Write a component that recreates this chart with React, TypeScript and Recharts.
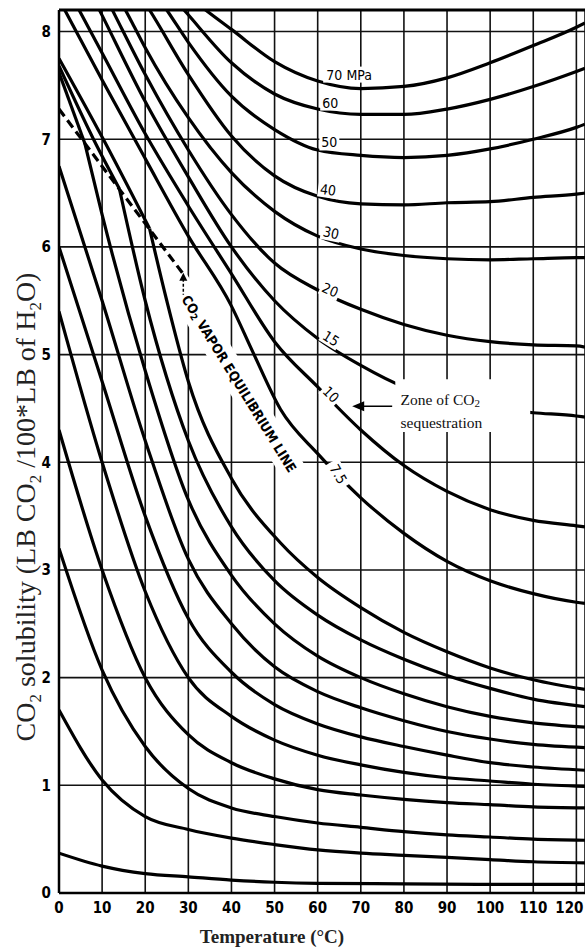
import React from 'react';
import {
  LineChart,
  Line,
  XAxis,
  YAxis,
  CartesianGrid,
  ReferenceLine,
  ReferenceArea,
  ReferenceDot,
} from 'recharts';

type Pt = [number, number];

// temperature (°C) / solubility (lb CO2 per 100 lb H2O)
const tempTicks = [0, 10, 20, 30, 40, 50, 60, 70, 80, 90, 100, 110, 120];
const solTicks = [0, 1, 2, 3, 4, 5, 6, 7, 8];

// isobars above the critical pressure (labelled, MPa)
const p70: Pt[] = [[25, 8.5], [34, 8.2], [40, 8.02], [50, 7.72], [60, 7.54], [70, 7.47], [80, 7.49], [90, 7.57], [100, 7.71], [110, 7.87], [120, 8.04], [122, 8.08]];
const p60: Pt[] = [[20, 8.6], [29, 8.2], [40, 7.71], [50, 7.42], [60, 7.28], [70, 7.23], [80, 7.23], [90, 7.28], [100, 7.37], [110, 7.49], [120, 7.63], [122, 7.66]];
const p50: Pt[] = [[15, 8.75], [25, 8.2], [30, 7.9], [40, 7.4], [50, 7.09], [60, 6.9], [70, 6.85], [80, 6.83], [90, 6.85], [100, 6.91], [110, 7.0], [120, 7.11], [122, 7.14]];
const p40: Pt[] = [[10, 8.85], [21, 8.2], [30, 7.6], [40, 7.03], [50, 6.66], [60, 6.47], [70, 6.4], [80, 6.39], [90, 6.41], [100, 6.42], [110, 6.46], [120, 6.49], [122, 6.5]];
const p30: Pt[] = [[5, 8.95], [17, 8.08], [20, 7.85], [30, 7.2], [40, 6.69], [50, 6.33], [60, 6.1], [70, 5.98], [80, 5.92], [90, 5.89], [100, 5.88], [110, 5.89], [120, 5.9], [122, 5.9]];
const p20: Pt[] = [[0, 9.2], [13, 8.15], [20, 7.6], [30, 6.9], [40, 6.3], [50, 5.85], [60, 5.6], [70, 5.42], [80, 5.28], [90, 5.18], [100, 5.12], [110, 5.09], [120, 5.08], [122, 5.07]];
const p15: Pt[] = [[0, 8.95], [10, 8.15], [20, 7.35], [30, 6.65], [40, 6.0], [50, 5.5], [60, 5.15], [70, 4.9], [80, 4.7], [90, 4.58], [100, 4.5], [110, 4.46], [120, 4.43], [122, 4.42]];
const p10: Pt[] = [[0, 8.55], [10, 7.8], [20, 7.05], [30, 6.38], [40, 5.75], [50, 5.12], [60, 4.7], [70, 4.3], [80, 3.97], [90, 3.73], [100, 3.56], [110, 3.46], [120, 3.41], [122, 3.4]];
const p7_5: Pt[] = [[0, 8.3], [10, 7.55], [20, 6.82], [30, 6.1], [40, 5.45], [45, 5.02], [51.4, 4.49], [60, 4.08], [70, 3.67], [80, 3.34], [90, 3.08], [100, 2.9], [110, 2.78], [120, 2.7], [122, 2.69]];

// liquid-side branches (left of the vapour line)
const liqA: Pt[] = [[0, 7.75], [10, 7.02], [21, 6.17]];
const liqB: Pt[] = [[0, 7.68], [8, 7.0], [14, 6.54]];
const liqC: Pt[] = [[0, 7.62], [6, 6.96]];

// gas-side isobars (unlabelled)
const g9: Pt[] = [[21, 6.17], [25, 5.5], [30, 4.75], [40, 3.85], [51.4, 3.25], [60, 2.93], [70, 2.65], [80, 2.42], [90, 2.24], [100, 2.09], [110, 1.98], [122, 1.89]];
const g8: Pt[] = [[14, 6.54], [20, 5.5], [30, 4.2], [40, 3.4], [50, 2.9], [60, 2.58], [70, 2.35], [80, 2.17], [90, 2.02], [100, 1.9], [110, 1.8], [122, 1.73]];
const g7: Pt[] = [[6, 6.96], [10, 6.3], [20, 4.85], [30, 3.65], [40, 2.95], [50, 2.5], [60, 2.2], [70, 2.0], [80, 1.85], [90, 1.73], [100, 1.64], [110, 1.58], [122, 1.54]];
const g6: Pt[] = [[0, 6.75], [10, 5.5], [20, 4.2], [30, 3.1], [40, 2.5], [50, 2.1], [60, 1.87], [70, 1.72], [80, 1.6], [90, 1.5], [100, 1.43], [110, 1.38], [122, 1.35]];
const g5: Pt[] = [[0, 6.0], [10, 4.75], [20, 3.5], [30, 2.55], [40, 2.05], [50, 1.75], [60, 1.57], [70, 1.45], [80, 1.36], [90, 1.28], [100, 1.21], [110, 1.17], [122, 1.14]];
const g4: Pt[] = [[0, 5.4], [10, 4.0], [20, 2.8], [30, 2.0], [40, 1.64], [50, 1.42], [60, 1.28], [70, 1.19], [80, 1.12], [90, 1.07], [100, 1.04], [110, 1.01], [122, 0.99]];
const g3: Pt[] = [[0, 4.3], [10, 3.0], [20, 2.0], [30, 1.47], [40, 1.21], [50, 1.06], [60, 0.96], [70, 0.91], [80, 0.87], [90, 0.84], [100, 0.82], [110, 0.8], [122, 0.79]];
const g2: Pt[] = [[0, 3.2], [10, 2.07], [20, 1.36], [30, 0.97], [40, 0.79], [50, 0.71], [60, 0.65], [70, 0.61], [80, 0.57], [90, 0.54], [100, 0.52], [110, 0.5], [122, 0.49]];
const g1: Pt[] = [[0, 1.7], [10, 1.05], [20, 0.71], [30, 0.59], [40, 0.51], [50, 0.45], [60, 0.4], [70, 0.37], [80, 0.35], [90, 0.33], [100, 0.31], [110, 0.29], [122, 0.28]];
const g0: Pt[] = [[0, 0.37], [10, 0.25], [20, 0.18], [30, 0.15], [40, 0.12], [50, 0.1], [60, 0.09], [80, 0.085], [100, 0.08], [122, 0.08]];

// CO2 vapour equilibrium line
const vle: Pt[] = [[0, 7.28], [28.6, 5.76]];

// label anchors: [temp, solubility], text, rotation
const isobarLabels: { at: Pt; text: string; rot: number }[] = [
  { at: [67.3, 7.6], text: '70 MPa', rot: 0 },
  { at: [62.9, 7.34], text: '60', rot: 0 },
  { at: [62.7, 6.97], text: '50', rot: 0 },
  { at: [62.4, 6.53], text: '40', rot: 8 },
  { at: [63.1, 6.13], text: '30', rot: 12 },
  { at: [62.9, 5.6], text: '20', rot: 24 },
  { at: [63.1, 5.15], text: '15', rot: 32 },
  { at: [63.1, 4.63], text: '10', rot: 45 },
  { at: [64.8, 3.89], text: '7.5', rot: 60 },
];

const curves: Pt[][] = [p70, p60, p50, p40, p30, p20, p15, p10, p7_5, liqA, liqB, liqC, g9, g8, g7, g6, g5, g4, g3, g2, g1, g0];

const rows = (pts: Pt[]) => pts.map(([t, s]) => ({ t, s }));

const narrow = '"Liberation Sans Narrow", "DejaVu Sans Condensed", sans-serif';
const sans = '"DejaVu Sans Condensed", "DejaVu Sans", sans-serif';
const serif = '"Liberation Serif", "DejaVu Serif", serif';

const XTick = (props: any) => {
  const { x, y, payload } = props;
  const dx = payload.value === 120 ? -7 : 0;
  return (
    <text x={x + dx} y={y + 12} textAnchor="middle" fontFamily={narrow} fontWeight="bold" fontSize={15} fill="#000">
      {payload.value}
    </text>
  );
};

export default function App() {
  return (
    <div style={{ position: 'relative', width: 585, height: 949, background: '#fff' }}>
      <style>{'body{margin:0}'}</style>
      <LineChart width={585} height={949} margin={{ top: 10, right: 0, bottom: 0, left: 0 }}>
        <CartesianGrid stroke="#111" strokeWidth={1.6} />
        <XAxis
          dataKey="t"
          type="number"
          domain={[0, 122]}
          ticks={tempTicks}
          allowDataOverflow
          interval={0}
          height={56}
          tickLine={false}
          axisLine={{ stroke: '#000', strokeWidth: 2.5 }}
          tick={<XTick />}
        />
        <YAxis
          type="number"
          domain={[0, 8.2]}
          ticks={solTicks}
          allowDataOverflow
          width={59}
          tickLine={false}
          axisLine={{ stroke: '#000', strokeWidth: 2.5 }}
          tick={{ fill: '#000', fontSize: 15, fontFamily: narrow, fontWeight: 'bold' }}
        />
        <ReferenceLine y={8.2} stroke="#000" strokeWidth={3} />

        {/* white strip behind the vapour line caption (breaks the grid) */}
        <ReferenceDot
          x={41.8}
          y={4.73}
          r={0}
          zIndex={50}
          shape={(p: any) => (
            <rect
              x={p.cx - 120}
              y={p.cy - 13}
              width={240}
              height={26}
              fill="#fff"
              transform={`rotate(58.3 ${p.cx} ${p.cy})`}
            />
          )}
        />

        {curves.map((c, i) => (
          <Line
            key={i}
            data={rows(c)}
            dataKey="s"
            type="monotone"
            stroke="#000"
            strokeWidth={3.2}
            dot={false}
            activeDot={false}
            isAnimationActive={false}
          />
        ))}
        <Line
          data={rows(vle)}
          dataKey="s"
          type="linear"
          stroke="#000"
          strokeWidth={3.2}
          strokeDasharray="9 5"
          dot={false}
          activeDot={false}
          isAnimationActive={false}
        />

        {/* small arrow at the end of the vapour line */}
        <ReferenceDot
          x={28.6}
          y={5.76}
          r={0}
          zIndex={700}
          shape={(p: any) => (
            <g>
              <line x1={p.cx + 1} y1={p.cy + 6} x2={p.cx + 1} y2={p.cy + 22} stroke="#000" strokeWidth={1.5} strokeDasharray="3 2" />
              <polygon points={`${p.cx + 1},${p.cy} ${p.cx - 3},${p.cy + 8} ${p.cx + 5},${p.cy + 8}`} fill="#000" />
            </g>
          )}
        />

        <ReferenceDot
          x={41.8}
          y={4.73}
          r={0}
          zIndex={700}
          shape={(p: any) => (
            <text
              x={p.cx}
              y={p.cy}
              textAnchor="middle"
              dominantBaseline="central"
              fontFamily={sans}
              fontWeight="bold"
              fontSize={13.5}
              fill="#000"
              transform={`rotate(58.3 ${p.cx} ${p.cy})`}
            >
              CO<tspan fontSize={9.5} dy={3}>2</tspan>
              <tspan dy={-3}> VAPOR EQUILIBRIUM LINE</tspan>
            </text>
          )}
        />

        {/* zone of sequestration box */}
        <ReferenceArea x1={78} x2={109.3} y1={4.28} y2={4.77} fill="#fff" fillOpacity={1} stroke="none" zIndex={600} />
        <ReferenceDot
          x={79.2}
          y={4.535}
          r={0}
          zIndex={700}
          shape={(p: any) => (
            <g fontFamily={serif} fontSize={15.5} fill="#111">
              <text x={p.cx} y={p.cy}>
                Zone of  CO<tspan fontSize={11} dy={2}>2</tspan>
              </text>
              <text x={p.cx} y={p.cy + 23}>sequestration</text>
            </g>
          )}
        />
        <ReferenceDot
          x={68}
          y={4.52}
          r={0}
          zIndex={700}
          shape={(p: any) => (
            <g>
              <line x1={p.cx + 6} y1={p.cy} x2={p.cx + 40} y2={p.cy} stroke="#000" strokeWidth={1.5} />
              <polygon points={`${p.cx},${p.cy} ${p.cx + 12},${p.cy - 5} ${p.cx + 12},${p.cy + 5}`} fill="#000" />
            </g>
          )}
        />

        {isobarLabels.map((l) => (
          <ReferenceDot
            key={l.text}
            x={l.at[0]}
            y={l.at[1]}
            r={0}
            zIndex={700}
            shape={(p: any) => {
              const w = l.text.length * 8 + 4;
              return (
                <g transform={`rotate(${l.rot} ${p.cx} ${p.cy})`}>
                  <rect x={p.cx - w / 2} y={p.cy - 8} width={w} height={16} fill="#fff" />
                  <text
                    x={p.cx}
                    y={p.cy}
                    textAnchor="middle"
                    dominantBaseline="central"
                    fontFamily={sans}
                    fontSize={14}
                    fill="#000"
                  >
                    {l.text}
                  </text>
                </g>
              );
            }}
          />
        ))}
      </LineChart>

      <div
        style={{
          position: 'absolute',
          left: 28,
          top: 507,
          transform: 'translate(-50%, -50%) rotate(-90deg)',
          whiteSpace: 'nowrap',
          fontFamily: serif,
          fontSize: 28,
          color: '#222',
        }}
      >
        CO<sub style={{ fontSize: 17 }}>2</sub> solubility (LB CO<sub style={{ fontSize: 17 }}>2</sub> /100*LB of H
        <sub style={{ fontSize: 17 }}>2</sub>O)
      </div>
      <div
        style={{
          position: 'absolute',
          left: 272,
          top: 937,
          transform: 'translate(-50%, -50%)',
          whiteSpace: 'nowrap',
          fontFamily: serif,
          fontSize: 19,
          fontWeight: 'bold',
          color: '#222',
        }}
      >
        Temperature (°C)
      </div>
    </div>
  );
}
